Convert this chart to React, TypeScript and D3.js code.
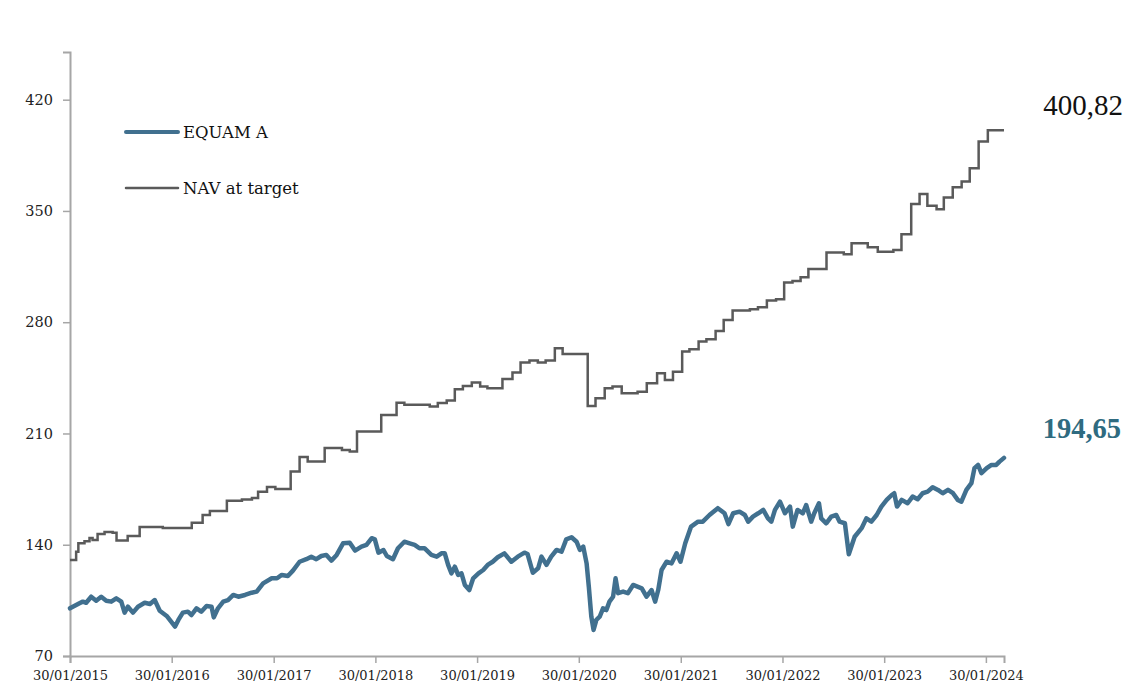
import React, { useEffect, useRef } from "react";
import * as d3 from "d3";

// EQUAM A (daily NAV)
const equamSeries: [string, number][] = [
  ["2015-01-30", 100.0], ["2015-03-05", 103.2], ["2015-03-17", 104.2], ["2015-03-29", 103.5],
  ["2015-04-16", 107.3], ["2015-05-04", 104.8], ["2015-05-22", 107.3], ["2015-06-09", 104.8],
  ["2015-06-27", 104.2], ["2015-07-15", 106.3], ["2015-08-02", 104.2], ["2015-08-14", 97.3],
  ["2015-08-26", 101.0], ["2015-09-13", 97.3], ["2015-10-01", 101.0], ["2015-10-25", 103.5],
  ["2015-11-13", 102.7], ["2015-11-30", 105.2], ["2015-12-18", 98.5], ["2016-01-12", 95.2],
  ["2016-02-11", 88.5], ["2016-02-23", 92.7], ["2016-03-10", 97.3], ["2016-03-28", 97.9],
  ["2016-04-10", 95.8], ["2016-04-28", 100.0], ["2016-05-15", 97.9], ["2016-06-03", 101.5],
  ["2016-06-21", 101.0], ["2016-06-29", 94.3], ["2016-07-14", 100.0], ["2016-08-02", 104.2],
  ["2016-08-19", 105.2], ["2016-09-07", 108.4], ["2016-09-25", 107.3], ["2016-10-19", 108.4],
  ["2016-11-12", 109.8], ["2016-11-30", 110.5], ["2016-12-23", 115.7], ["2017-01-23", 118.9],
  ["2017-02-11", 118.9], ["2017-02-28", 121.0], ["2017-03-22", 120.3], ["2017-04-09", 123.7],
  ["2017-05-03", 129.3], ["2017-05-27", 130.9], ["2017-06-14", 132.5], ["2017-07-02", 130.9],
  ["2017-07-20", 132.9], ["2017-08-07", 133.6], ["2017-08-25", 130.0], ["2017-09-13", 133.6],
  ["2017-10-06", 140.9], ["2017-10-30", 141.3], ["2017-11-18", 136.3], ["2017-12-11", 138.8],
  ["2017-12-29", 139.9], ["2018-01-17", 144.1], ["2018-01-28", 143.4], ["2018-02-10", 135.0],
  ["2018-02-28", 136.7], ["2018-03-12", 132.9], ["2018-04-03", 130.9], ["2018-04-21", 137.8],
  ["2018-05-14", 141.9], ["2018-06-02", 140.9], ["2018-06-20", 139.9], ["2018-07-07", 137.8],
  ["2018-07-25", 137.8], ["2018-08-19", 133.6], ["2018-09-07", 132.5], ["2018-09-24", 134.6],
  ["2018-10-06", 134.6], ["2018-10-18", 127.3], ["2018-10-30", 122.0], ["2018-11-11", 126.2],
  ["2018-11-23", 121.0], ["2018-12-05", 122.0], ["2018-12-17", 114.7], ["2019-01-02", 111.5],
  ["2019-01-16", 118.9], ["2019-02-04", 122.0], ["2019-02-21", 124.1], ["2019-03-09", 127.3],
  ["2019-03-27", 129.3], ["2019-04-14", 132.1], ["2019-05-08", 134.6], ["2019-06-02", 129.3],
  ["2019-06-25", 132.5], ["2019-07-19", 135.0], ["2019-07-30", 134.2], ["2019-08-18", 122.4],
  ["2019-09-06", 125.2], ["2019-09-18", 132.5], ["2019-10-06", 127.3], ["2019-10-23", 132.5],
  ["2019-11-11", 136.7], ["2019-11-29", 135.6], ["2019-12-16", 143.4], ["2020-01-04", 144.7],
  ["2020-01-22", 141.9], ["2020-02-03", 136.7], ["2020-02-15", 138.8], ["2020-02-27", 128.3],
  ["2020-03-06", 113.6], ["2020-03-15", 94.7], ["2020-03-23", 86.4], ["2020-04-02", 92.7],
  ["2020-04-14", 94.7], ["2020-04-26", 100.0], ["2020-05-08", 98.9], ["2020-05-19", 104.2],
  ["2020-06-01", 107.3], ["2020-06-10", 118.9], ["2020-06-19", 109.5], ["2020-07-07", 110.5],
  ["2020-07-24", 109.5], ["2020-08-12", 114.7], ["2020-09-12", 112.6], ["2020-09-29", 107.3],
  ["2020-10-17", 111.5], ["2020-10-30", 104.2], ["2020-11-10", 111.5], ["2020-11-22", 124.1],
  ["2020-12-10", 129.3], ["2020-12-28", 128.3], ["2021-01-15", 134.6], ["2021-01-29", 129.3],
  ["2021-02-15", 140.9], ["2021-03-08", 151.4], ["2021-04-02", 154.5], ["2021-04-19", 154.5],
  ["2021-05-13", 158.7], ["2021-06-12", 163.0], ["2021-07-06", 159.8], ["2021-07-20", 153.0],
  ["2021-08-06", 159.8], ["2021-08-29", 160.8], ["2021-09-17", 158.7], ["2021-09-29", 154.5],
  ["2021-10-16", 157.7], ["2021-11-04", 159.8], ["2021-11-22", 161.9], ["2021-12-09", 156.6],
  ["2021-12-21", 154.5], ["2022-01-03", 161.9], ["2022-01-21", 167.1], ["2022-02-08", 159.8],
  ["2022-02-26", 164.0], ["2022-03-08", 151.4], ["2022-03-25", 161.9], ["2022-04-13", 159.8],
  ["2022-04-25", 165.0], ["2022-05-13", 154.5], ["2022-05-24", 159.8], ["2022-06-10", 166.1],
  ["2022-06-18", 156.6], ["2022-07-06", 153.5], ["2022-07-24", 157.7], ["2022-08-11", 158.7],
  ["2022-08-23", 154.5], ["2022-09-11", 153.5], ["2022-09-25", 134.0], ["2022-10-16", 145.0],
  ["2022-11-10", 150.4], ["2022-11-27", 156.6], ["2022-12-15", 154.5], ["2023-01-03", 158.7],
  ["2023-01-20", 164.0], ["2023-02-08", 168.2], ["2023-02-26", 171.3], ["2023-03-07", 172.4],
  ["2023-03-17", 164.0], ["2023-04-03", 168.2], ["2023-04-24", 166.1], ["2023-05-12", 170.3],
  ["2023-05-30", 168.6], ["2023-06-17", 172.4], ["2023-07-05", 173.4], ["2023-07-23", 176.2],
  ["2023-08-11", 174.5], ["2023-08-28", 172.4], ["2023-09-16", 174.5], ["2023-10-04", 172.4],
  ["2023-10-21", 168.2], ["2023-11-03", 167.1], ["2023-11-21", 174.5], ["2023-12-09", 178.7],
  ["2023-12-20", 188.2], ["2024-01-02", 190.2], ["2024-01-14", 185.0], ["2024-02-02", 188.2],
  ["2024-02-19", 190.2], ["2024-03-07", 190.2], ["2024-03-19", 192.3], ["2024-04-04", 194.65],
];

// NAV at target (step series, value holds until next date)
const navSeries: [string, number][] = [
  ["2015-01-30", 130.4], ["2015-02-21", 135.6], ["2015-03-01", 141.0], ["2015-03-23", 142.2],
  ["2015-04-10", 144.3], ["2015-04-21", 143.0], ["2015-05-09", 146.8], ["2015-06-03", 148.0],
  ["2015-07-02", 147.5], ["2015-07-16", 142.6], ["2015-08-25", 145.5], ["2015-10-07", 151.2],
  ["2015-12-29", 150.5], ["2016-04-11", 153.9], ["2016-05-20", 158.7], ["2016-06-15", 161.2],
  ["2016-08-15", 167.7], ["2016-10-08", 168.5], ["2016-11-13", 169.4], ["2016-12-05", 173.4],
  ["2017-01-06", 176.4], ["2017-02-05", 175.1], ["2017-04-01", 186.0], ["2017-05-03", 195.2],
  ["2017-06-01", 192.3], ["2017-08-01", 200.9], ["2017-10-02", 199.6], ["2017-10-30", 198.6],
  ["2017-11-25", 211.2], ["2018-02-20", 221.7], ["2018-04-16", 229.4], ["2018-05-14", 228.0],
  ["2018-08-13", 227.0], ["2018-09-11", 229.2], ["2018-10-13", 230.7], ["2018-11-11", 237.8],
  ["2018-12-10", 239.9], ["2019-01-11", 242.0], ["2019-02-10", 239.5], ["2019-03-08", 238.5],
  ["2019-05-01", 244.3], ["2019-06-06", 248.3], ["2019-07-05", 254.6], ["2019-08-06", 255.9],
  ["2019-09-05", 254.6], ["2019-10-03", 255.9], ["2019-11-05", 263.6], ["2019-12-03", 260.0],
  ["2020-03-02", 227.3], ["2020-03-30", 232.2], ["2020-05-02", 238.5], ["2020-05-30", 239.5],
  ["2020-07-02", 235.3], ["2020-08-28", 236.3], ["2020-09-30", 241.6], ["2020-11-06", 247.9],
  ["2020-12-04", 243.7], ["2021-01-02", 248.9], ["2021-02-04", 261.5], ["2021-03-02", 263.0],
  ["2021-04-04", 267.8], ["2021-05-02", 269.3], ["2021-06-04", 274.5], ["2021-07-03", 281.4],
  ["2021-08-04", 287.3], ["2021-10-05", 288.2], ["2021-11-03", 289.4], ["2021-12-05", 293.6],
  ["2022-01-07", 294.5], ["2022-02-05", 305.0], ["2022-03-07", 306.0], ["2022-04-05", 308.3],
  ["2022-05-03", 313.4], ["2022-07-07", 323.8], ["2022-09-07", 322.8], ["2022-10-05", 329.7],
  ["2022-12-02", 327.2], ["2023-01-07", 324.4], ["2023-03-04", 325.5], ["2023-04-02", 335.4],
  ["2023-05-07", 354.3], ["2023-06-06", 360.6], ["2023-07-04", 353.2], ["2023-08-06", 351.1],
  ["2023-09-01", 358.4], ["2023-10-03", 364.9], ["2023-11-04", 368.5], ["2023-12-03", 376.9],
  ["2024-01-04", 393.7], ["2024-02-06", 400.82], ["2024-04-04", 400.82],
];

const yTicks = [70, 140, 210, 280, 350, 420];
const xTickYears = [2015, 2016, 2017, 2018, 2019, 2020, 2021, 2022, 2023, 2024];
const seriesNames = ["EQUAM A", "NAV at target"];
const endLabels = ["194,65", "400,82"];

const W = 1125;
const H = 688;
const FONT = "'DejaVu Serif', 'Liberation Serif', serif";
const LABEL_FONT = "'Liberation Serif', 'DejaVu Serif', serif";
const EQUAM_COLOR = "#41708f";
const NAV_COLOR = "#5a5a5a";
const AXIS_COLOR = "#a6a6a6";

const App: React.FC = () => {
  const svgRef = useRef<SVGSVGElement | null>(null);

  useEffect(() => {
    if (!svgRef.current) return;
    const parse = d3.timeParse("%Y-%m-%d");
    const equam = equamSeries.map(([d, v]) => ({ date: parse(d)!, value: v }));
    const nav = navSeries.map(([d, v]) => ({ date: parse(d)!, value: v }));

    const x = d3
      .scaleTime()
      .domain([new Date(2015, 0, 30), new Date(2024, 3, 4)])
      .range([70, 1004]);
    const y = d3.scaleLinear().domain([70, 450]).range([656, 52]);

    const svg = d3.select(svgRef.current);
    svg.selectAll("*").remove();

    // Axes
    const yAxis = d3.axisLeft(y).tickValues(yTicks).tickSize(7).tickPadding(10);
    const gy = svg.append("g").attr("transform", "translate(70,0)").call(yAxis);
    gy.select(".domain").attr("stroke", AXIS_COLOR).attr("stroke-width", 2);
    gy.selectAll(".tick line").attr("stroke", AXIS_COLOR).attr("stroke-width", 1.5);
    gy.selectAll(".tick text")
      .attr("fill", "#222")
      .style("font-family", FONT)
      .style("font-size", "14.5px");

    const xTickDates = xTickYears.map((yr) => new Date(yr, 0, 30));
    const xAxis = d3
      .axisBottom(x)
      .tickValues(xTickDates)
      .tickSize(7)
      .tickPadding(8)
      .tickFormat((d) => d3.timeFormat("%d/%m/%Y")(d as Date));
    const gx = svg.append("g").attr("transform", "translate(0,656)").call(xAxis);
    gx.select(".domain").attr("stroke", AXIS_COLOR).attr("stroke-width", 2);
    gx.selectAll(".tick line").attr("stroke", AXIS_COLOR).attr("stroke-width", 1.5);
    gx.selectAll(".tick text")
      .attr("fill", "#222")
      .style("font-family", FONT)
      .style("font-size", "13px");

    // NAV at target (step)
    const navLine = d3
      .line<{ date: Date; value: number }>()
      .x((d) => x(d.date))
      .y((d) => y(d.value))
      .curve(d3.curveStepAfter);
    svg
      .append("path")
      .datum(nav)
      .attr("d", navLine)
      .attr("fill", "none")
      .attr("stroke", NAV_COLOR)
      .attr("stroke-width", 2.5);

    // EQUAM A
    const eqLine = d3
      .line<{ date: Date; value: number }>()
      .x((d) => x(d.date))
      .y((d) => y(d.value));
    svg
      .append("path")
      .datum(equam)
      .attr("d", eqLine)
      .attr("fill", "none")
      .attr("stroke", EQUAM_COLOR)
      .attr("stroke-width", 4.5)
      .attr("stroke-linejoin", "round")
      .attr("stroke-linecap", "round");

    // Legend
    const legend = svg.append("g");
    const legendRows = [
      { name: seriesNames[0], color: EQUAM_COLOR, width: 4, ly: 132 },
      { name: seriesNames[1], color: NAV_COLOR, width: 2.5, ly: 188 },
    ];
    legendRows.forEach((r) => {
      legend
        .append("line")
        .attr("x1", 126)
        .attr("x2", 178)
        .attr("y1", r.ly)
        .attr("y2", r.ly)
        .attr("stroke", r.color)
        .attr("stroke-width", r.width)
        .attr("stroke-linecap", "round");
      legend
        .append("text")
        .attr("x", 183)
        .attr("y", r.ly + 6)
        .style("font-family", FONT)
        .style("font-size", "16.5px")
        .attr("fill", "#111")
        .text(r.name);
    });

    // End value labels
    svg
      .append("text")
      .attr("x", 1123)
      .attr("y", 115)
      .attr("text-anchor", "end")
      .style("font-family", LABEL_FONT)
      .style("font-size", "29px")
      .attr("fill", "#111")
      .text(endLabels[1]);
    svg
      .append("text")
      .attr("x", 1121)
      .attr("y", 438)
      .attr("text-anchor", "end")
      .style("font-family", LABEL_FONT)
      .style("font-size", "28.5px")
      .style("font-weight", "bold")
      .attr("fill", "#2f6b80")
      .text(endLabels[0]);
  }, []);

  return (
    <div style={{ position: "absolute", left: 0, top: 0, width: W, height: H, background: "#fff" }}>
      <svg ref={svgRef} width={W} height={H} />
    </div>
  );
};

export default App;
